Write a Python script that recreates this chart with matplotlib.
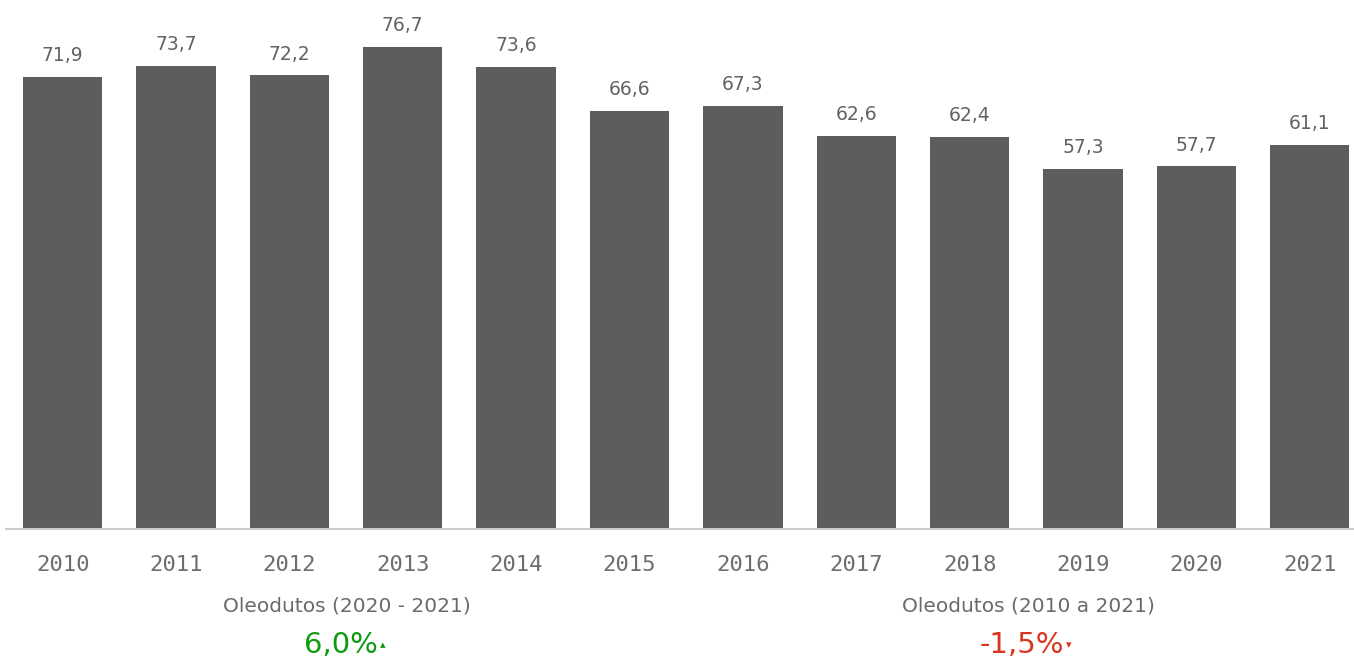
import matplotlib
matplotlib.use("Agg")
import matplotlib.pyplot as plt

years = ["2010", "2011", "2012", "2013", "2014", "2015", "2016", "2017", "2018", "2019", "2020", "2021"]
values = [71.9, 73.7, 72.2, 76.7, 73.6, 66.6, 67.3, 62.6, 62.4, 57.3, 57.7, 61.1]
kpi_titles = ["Oleodutos (2020 - 2021)", "Oleodutos (2010 a 2021)"]
kpi_values = ["6,0%", "-1,5%"]
kpi_arrows = ["\u25b4", "\u25be"]
kpi_colors = ["#109a10", "#d9361e"]

W, H = 1354, 661
fig = plt.figure(figsize=(W / 100, H / 100), dpi=100)
ax = fig.add_axes([6 / W, (H - 529) / H, (W - 6) / W, 529 / H])

x = list(range(len(years)))
ax.bar(x, values, width=0.70, color="#5d5d5b")
ax.set_xlim(-0.5, 11.39)
ax.set_ylim(0, 84.2)

for xi, v in zip(x, values):
    ax.annotate(f"{v:.1f}".replace(".", ","), (xi, v), xytext=(0, 8.5),
                textcoords="offset points", ha="center", va="bottom",
                fontsize=13.5, color="#636363", family="DejaVu Sans")

ax.set_xticks(x)
ax.set_xticklabels(years, family="DejaVu Sans Mono", fontsize=16, color="#6e6e6e")
ax.tick_params(axis="x", length=0, pad=19)
ax.set_yticks([])
for s in ["top", "right", "left"]:
    ax.spines[s].set_visible(False)
ax.spines["bottom"].set_color("#cccccc")
ax.spines["bottom"].set_linewidth(1.5)

centers = [347, 1028]
for cx, t, val, arr, col in zip(centers, kpi_titles, kpi_values, kpi_arrows, kpi_colors):
    fig.text(cx / W, 1 - 606 / H, t, ha="center", va="center", fontsize=14.5,
             color="#6a6a6a", family="DejaVu Sans")
    fig.text((cx - 6) / W, 1 - 645 / H, val, ha="center", va="center", fontsize=21,
             color=col, family="DejaVu Sans")

fig.text(383 / W, 1 - 645 / H, kpi_arrows[0], ha="center", va="center", fontsize=8, color=kpi_colors[0])
fig.text(1069 / W, 1 - 645 / H, kpi_arrows[1], ha="center", va="center", fontsize=8, color=kpi_colors[1])

fig.savefig("out.png", dpi=100)
